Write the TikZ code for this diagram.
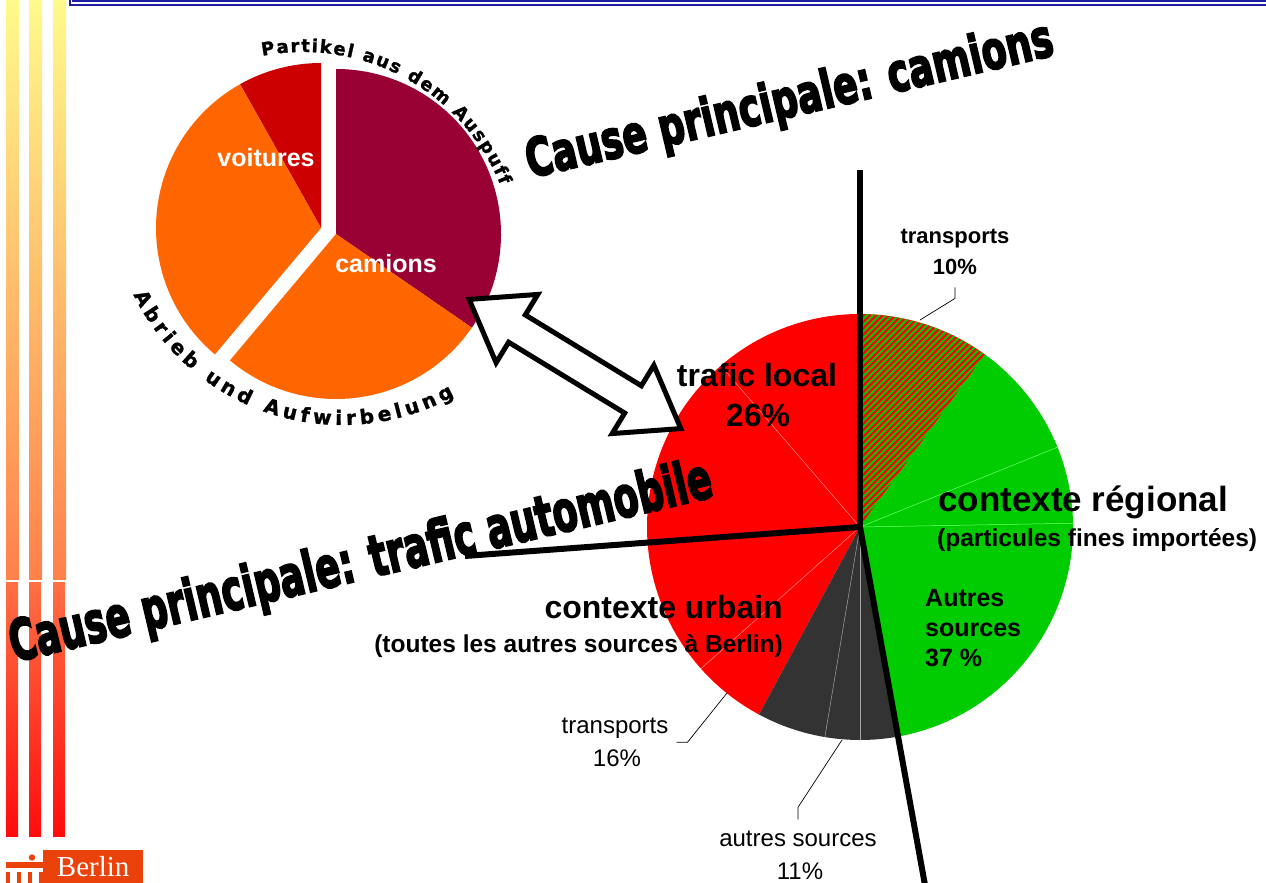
\documentclass[tikz,border=0pt]{standalone}
\usepackage{fontspec}
\usepackage{graphicx}
\setmainfont{Liberation Sans}
\newfontfamily\heavyfont{DejaVu Sans Bold}[FakeBold=4]
\newfontfamily\arcfont{DejaVu Sans Bold}[FakeBold=1.5]
\newfontfamily\serifont{Liberation Serif}
\usetikzlibrary{decorations.text,patterns.meta}
\definecolor{stripetop}{RGB}{255,250,140}
\definecolor{stripemid}{RGB}{255,128,75}
\definecolor{stripelow}{RGB}{255,112,68}
\definecolor{stripebot}{RGB}{255,12,12}
\definecolor{bannerblue}{RGB}{30,30,165}
\definecolor{berlinred}{RGB}{235,65,10}
\definecolor{carred}{RGB}{204,0,0}
\definecolor{autoorange}{RGB}{255,102,0}
\definecolor{truckpurple}{RGB}{153,0,51}
\definecolor{bigred}{RGB}{255,0,0}
\definecolor{biggreen}{RGB}{0,204,0}
\definecolor{darkgrey}{RGB}{51,51,51}
\newcommand\fsz[1]{\fontsize{#1}{#1}\selectfont}
\newcommand\arctop{\arcfont\fontsize{18}{18}\selectfont}
\newcommand\arcbot{\arcfont\fontsize{20}{20}\selectfont}
\newcommand\pieslice[5]{\fill[#1] (#2) -- ++(#3:#5) arc[start angle=#3,end angle=#4,radius=#5] -- cycle;}
\tikzset{
  thickrule/.style={line width=6pt},
  leader/.style={line width=0.7pt},
  lbl/.style={inner sep=0pt,anchor=base},
  faint/.style={line width=0.5pt}
}
\begin{document}
\begin{tikzpicture}[x=1pt,y=1pt]
\useasboundingbox (0,0) rectangle (1266,883);
\fill[white] (0,0) rectangle (1266,883);
\foreach \x in {6,29,53}{
  \shade[top color=stripetop,bottom color=stripemid] (\x,303) rectangle ++(13,580);
  \shade[top color=stripelow,bottom color=stripebot] (\x,46) rectangle ++(12,254);
}
\draw[bannerblue,line width=1.8pt] (70,895) |- (1280,878.2);
\draw[bannerblue,line width=1.5pt] (73.2,895) |- (1280,882);
\node[fill=berlinred,text=white,inner sep=0pt,minimum width=100pt,minimum height=33pt,anchor=south west] (berlin) at (43,0) {\serifont\fsz{29}Berlin};
\fill[berlinred] (6,15) rectangle (43,21);
\fill[berlinred] (32,25.5) circle (3.2);
\foreach \x in {6,17,28,39} \fill[berlinred] (\x,0) rectangle ++(4,11);
\coordinate (lc) at (321,655);
\coordinate (rc) at (336,649);
\pieslice{carred}{lc}{90}{119.4}{165}
\pieslice{autoorange}{lc}{119.4}{230}{165}
\pieslice{truckpurple}{rc}{-34.6}{90}{165}
\pieslice{autoorange}{rc}{230}{325.4}{165}
\node[lbl,text=white,font=\bfseries\fsz{25}] (voit) at (266,716) {voitures};
\node[lbl,text=white,font=\bfseries\fsz{25}] (cam) at (386,610) {camions};
\path[decorate,decoration={text along path,text={|\arctop|Partikel aus dem Auspuff},text align={fit to path}}] ([shift={(101:213)}]303,618) arc[start angle=101,end angle=22,radius=213];
\path[decorate,decoration={text along path,text={|\arcbot|Abrieb und Aufwirbelung},text align={fit to path}}] ([shift={(206:232)}]342,690) arc[start angle=206,end angle=299,radius=232];
\coordinate (bigc) at (860,356);
\pieslice{bigred}{bigc}{90}{241.7}{213}
\pieslice{bigred}{bigc}{54}{90}{213}
\fill[pattern={Lines[angle=45,distance=4.5pt,line width=2pt]},pattern color=biggreen] (bigc) -- ++(54:213) arc[start angle=54,end angle=90,radius=213] -- cycle;
\pieslice{biggreen}{bigc}{-80}{54}{213}
\pieslice{darkgrey}{bigc}{241.7}{280}{213}
\foreach \a in {130.8,221.7} \draw[faint,red!45!white] (bigc) -- ++(\a:213);
\foreach \a in {1,22} \draw[faint,green!55!white] (bigc) -- ++(\a:213);
\foreach \a in {260.5,270} \draw[faint,gray!70] (bigc) -- ++(\a:213);
\coordinate (up) at (860,713);
\coordinate (lft) at (465,327);
\coordinate (dwn) at (925,-2);
\foreach \p in {up,lft,dwn} \draw[thickrule] (bigc) -- (\p);
\begin{scope}[shift={(575,519)},rotate=-31.4]
\draw[line width=5pt,fill=white,line join=miter] (-124,0) -- (-68,40) -- (-68,16) -- (68,16) -- (68,40) -- (124,0) -- (68,-40) -- (68,-16) -- (-68,-16) -- (-68,-40) -- cycle;
\end{scope}
\node[lbl,font=\bfseries\fsz{22}] (tr10) at (955,639) {transports};
\node[lbl,font=\bfseries\fsz{22}] (tr10v) at (955,608) {10\%};
\coordinate (e10) at (920,563);
\draw[leader] ([yshift=-12pt]tr10v.south) -- ++(0,-11) -- (e10);
\node[lbl,font=\fsz{24}] (tr16) at (615,149) {transports};
\node[lbl,font=\fsz{24}] (tr16v) at (617,116) {16\%};
\coordinate (e16) at (727,190);
\draw[leader] ([xshift=8pt,yshift=-3pt]tr16.south east) -- ++(11,0) -- (e16);
\node[lbl,font=\fsz{24}] (as11) at (798,36) {autres sources};
\node[lbl,font=\fsz{24}] (as11v) at (800,3) {11\%};
\coordinate (e11) at (842,143);
\draw[leader] ([yshift=12pt]as11.north) -- ++(0,12) -- (e11);
\node[lbl,font=\bfseries\fsz{32}] (tloc) at (757,496) {trafic local};
\node[lbl,font=\bfseries\fsz{32}] (tlocv) at (758,456) {26\%};
\node[lbl,anchor=base west,font=\bfseries\fsz{35}] (creg) at (938,371) {contexte régional};
\node[lbl,anchor=base west,font=\bfseries\fsz{24.5}] (cregs) at (937,336) {(particules fines importées)};
\foreach \t [count=\i] in {Autres,sources,37 \%} \node[lbl,anchor=base west,font=\bfseries\fsz{25}] (aut\i) at (925,306-30*\i) {\t};
\node[lbl,anchor=base east,font=\bfseries\fsz{32}] (curb) at (783,264) {contexte urbain};
\node[lbl,anchor=base east,font=\bfseries\fsz{24.5}] (curbs) at (783,230) {(toutes les autres sources à Berlin)};
\node[lbl,anchor=base west,rotate=13.2] (causecam) at (530,705) {\resizebox{540pt}{40pt}{\heavyfont Cause principale: camions}};
\node[lbl,anchor=base west,rotate=13.3] (causeauto) at (14,221) {\resizebox{720pt}{43pt}{\heavyfont Cause principale: trafic automobile}};
\end{tikzpicture}
\end{document}
